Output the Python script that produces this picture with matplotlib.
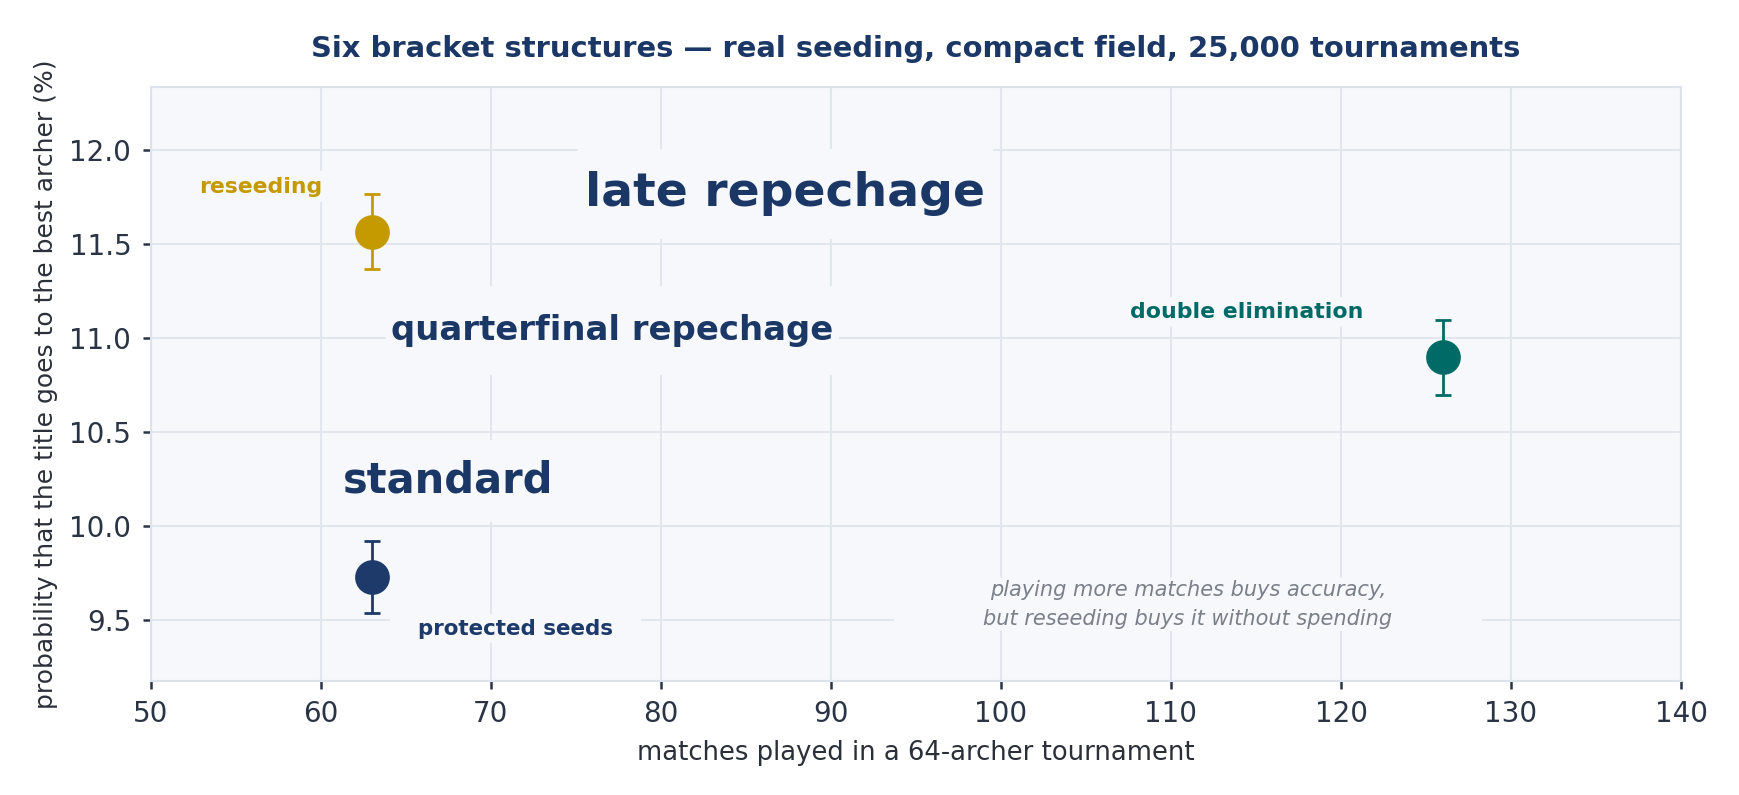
import matplotlib
matplotlib.use("Agg")
import matplotlib.pyplot as plt

# structures that show a marker in the chart
structures = ["reseeding", "protected seeds", "double elimination"]
matches = [63, 63, 126]
title_pct = [11.564, 9.727, 10.896]
ci_pct = [0.200, 0.192, 0.197]
colors = ["#c49a00", "#1d3a6b", "#006b66"]

title = "Six bracket structures \u2014 real seeding, compact field, 25,000 tournaments"
note = "playing more matches buys accuracy,\nbut reseeding buys it without spending"

DPI = 200
BG = "#f6f8fb"
NAVY = "#1b3766"
GRID = "#e2e7ef"


def label(ax, x, y, text, size, color, padx, pady, **kw):
    """text with a background box, padding given in pixels"""
    em = size * DPI / 72
    box = dict(boxstyle="square,pad=%.4f" % (padx / em),
               mutation_aspect=pady / padx, fc=BG, ec="none")
    ax.text(x, y, text, fontsize=size, color=color, ha="center",
            va="center", zorder=4, bbox=box, **kw)


fig, ax = plt.subplots(figsize=(1739 / DPI, 795 / DPI), dpi=DPI)
fig.subplots_adjust(left=0.0867, right=0.9667, top=0.891, bottom=0.1434)
ax.set_facecolor(BG)

for i in range(len(structures)):
    ax.errorbar(matches[i], title_pct[i], yerr=ci_pct[i], fmt="o",
                color=colors[i], ms=11.5, elinewidth=1.0, capsize=3,
                capthick=1.0, zorder=3)

# labels
label(ax, 87.30, 11.766, "late repechage", 17, NAVY, 7.5, 22.5,
      fontweight="bold")
label(ax, 77.14, 11.041, "quarterfinal repechage", 12.2, NAVY, 5.5, 28,
      fontweight="bold")
label(ax, 67.50, 10.240, "standard", 15, NAVY, 6.5, 20, fontweight="bold")
label(ax, 56.49, 11.805, "reseeding", 7.9, colors[0], 5, 5.5,
      fontweight="bold")
label(ax, 114.46, 11.140, "double elimination", 7.95, colors[2], 5, 4.5,
      fontweight="bold")
label(ax, 71.46, 9.453, "protected seeds", 7.7, colors[1], 28, 4.5,
      fontweight="bold")
label(ax, 111.0, 9.582, note, 7.5, "#7a7f8a", 89, 1.5, style="italic",
      linespacing=1.6)

ax.set_xlim(50, 140)
ax.set_ylim(9.176, 12.336)
ax.set_xticks(range(50, 141, 10))
ax.set_yticks([9.5, 10.0, 10.5, 11.0, 11.5, 12.0])
ax.set_yticklabels(["9.5", "10.0", "10.5", "11.0", "11.5", "12.0"])

ax.set_axisbelow(True)
ax.grid(True, color=GRID, linewidth=0.75)
for s in ax.spines.values():
    s.set_color("#dde3ed")
    s.set_linewidth(0.75)
ax.tick_params(colors="#2b3445", labelsize=10, length=3, width=0.9, pad=4)

ax.set_xlabel("matches played in a 64-archer tournament", fontsize=9.3,
              color="#2b2f38")
ax.set_ylabel("probability that the title goes to the best archer (%)",
              fontsize=9.0, color="#2b2f38")
ax.set_title(title, fontsize=10.43, fontweight="bold", color=NAVY, pad=10.5)

fig.savefig("out.png", dpi=DPI)
